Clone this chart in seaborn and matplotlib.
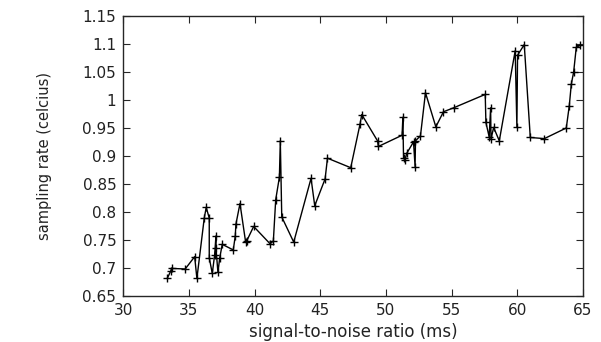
import matplotlib
matplotlib.use("Agg")
import matplotlib.pyplot as plt
import seaborn as sns
import pandas as pd

# values (in drawing order)
snr = [33.35, 33.63, 33.68, 34.72, 35.44, 35.61, 36.17, 36.32, 36.55, 36.55,
       36.78, 36.96, 37.06, 37.06, 37.21, 37.35, 37.54, 38.38, 38.53, 38.58,
       38.89, 39.32, 39.40, 39.93, 41.18, 41.43, 41.61, 41.89, 41.96, 42.07,
       42.98, 44.30, 44.58, 45.37, 45.55, 47.32, 48.03, 48.16, 49.36, 49.43,
       51.23, 51.29, 51.34, 51.45, 51.59, 52.10, 52.22, 52.25, 52.63, 53.01,
       53.80, 54.38, 55.15, 57.56, 57.61, 57.86, 57.97, 58.00, 58.20, 58.63,
       59.84, 59.97, 60.02, 60.53, 60.99, 62.06, 63.73, 63.96, 64.11, 64.29,
       64.49, 64.80]
rate = [0.681, 0.695, 0.699, 0.698, 0.720, 0.681, 0.789, 0.808, 0.789, 0.718,
        0.690, 0.723, 0.757, 0.736, 0.692, 0.718, 0.742, 0.732, 0.757, 0.778,
        0.815, 0.746, 0.748, 0.774, 0.743, 0.748, 0.822, 0.862, 0.927, 0.791,
        0.746, 0.860, 0.811, 0.859, 0.896, 0.879, 0.957, 0.974, 0.927, 0.917,
        0.937, 0.969, 0.896, 0.893, 0.905, 0.925, 0.881, 0.927, 0.936, 1.013,
        0.952, 0.979, 0.986, 1.010, 0.960, 0.934, 0.986, 0.930, 0.951, 0.927,
        1.088, 0.951, 1.080, 1.099, 0.933, 0.931, 0.950, 0.990, 1.028, 1.050,
        1.094, 1.098]

xticks = [30, 35, 40, 45, 50, 55, 60, 65]
yticks = [0.65, 0.7, 0.75, 0.8, 0.85, 0.9, 0.95, 1.0, 1.05, 1.1, 1.15]
ylabels = ["0.65", "0.7", "0.75", "0.8", "0.85", "0.9", "0.95", "1", "1.05", "1.1", "1.15"]

df = pd.DataFrame({"snr": snr, "rate": rate})

sns.set_style("ticks")
plt.rcParams["font.family"] = ["DejaVu Sans"]

fig = plt.figure(figsize=(6.01, 3.42), dpi=100)
ax = fig.add_axes([0.205, 0.135, 0.765, 0.818])

sns.lineplot(data=df, x="snr", y="rate", sort=False, estimator=None,
             color="black", linewidth=1.0, marker="+", markersize=6,
             markeredgewidth=1.0, markeredgecolor="black", ax=ax)

ax.set_xlim(30, 65)
ax.set_ylim(0.65, 1.15)
ax.set_xticks(xticks)
ax.set_yticks(yticks)
ax.set_yticklabels(ylabels)
ax.tick_params(direction="in", top=True, right=True, length=5, labelsize=11,
               pad=5, labelcolor="#222222")
for s in ax.spines.values():
    s.set_linewidth(1.0)
ax.set_xlabel("signal-to-noise ratio (ms)", fontsize=12, labelpad=4, color="#222222")
ax.set_ylabel("sampling rate (celcius)", fontsize=10.5, labelpad=22, color="#222222")

fig.savefig("out.png", dpi=100)
